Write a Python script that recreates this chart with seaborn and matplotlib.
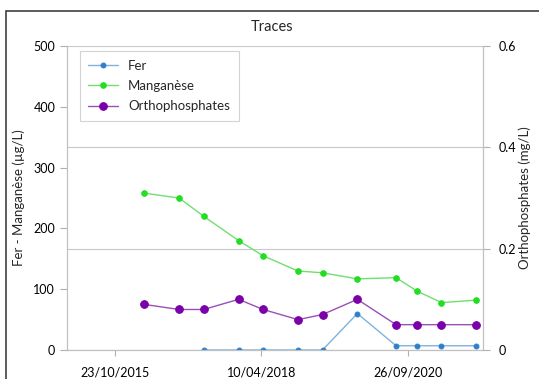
import numpy as np
import pandas as pd
import matplotlib
matplotlib.use('Agg')
import matplotlib.pyplot as plt
import matplotlib.dates as mdates
from matplotlib.patches import Rectangle
import seaborn as sns

# sampling dates and measured values
dates = pd.to_datetime(['2016-04-20', '2016-11-20', '2017-04-20', '2017-11-20',
                        '2018-04-20', '2018-11-20', '2019-04-20', '2019-11-20',
                        '2020-07-15', '2020-11-20', '2021-04-20', '2021-11-20'])
fer = [np.nan, np.nan, 0, 0, 0, 0, 0, 60, 7, 7, 7, 7]            # µg/L
manganese = [258, 250, 220, 180, 155, 130, 127, 117, 119, 97, 78, 82]  # µg/L
ortho = [0.09, 0.08, 0.08, 0.10, 0.08, 0.06, 0.07, 0.10, 0.05, 0.05, 0.05, 0.05]  # mg/L
tick_dates = pd.to_datetime(['2015-10-23', '2018-04-10', '2020-09-26'])

sns.set_style('white')
plt.rcParams['font.family'] = ['Lato', 'DejaVu Sans']

fig = plt.figure(figsize=(5.39, 3.79), dpi=100)
ax = fig.add_axes([0.1243, 0.0765, 0.7718, 0.802])
ax2 = ax.twinx()

sns.lineplot(x=dates, y=fer, ax=ax, color='#7fb3dc', lw=1, marker='o',
             markersize=3.5, markerfacecolor='#2f80c8', markeredgecolor='#2f80c8',
             label='Fer', legend=False)
sns.lineplot(x=dates, y=manganese, ax=ax, color='#6ee06e', lw=1, marker='o',
             markersize=4, markerfacecolor='#22dd22', markeredgecolor='#22dd22',
             label='Manganèse', legend=False)
sns.lineplot(x=dates, y=ortho, ax=ax2, color='#9a4fb8', lw=1, marker='o',
             markersize=5.5, markerfacecolor='#7a00a8', markeredgecolor='#7a00a8',
             label='Orthophosphates', legend=False)

# left axis
ax.set_ylim(0, 500)
ax.set_yticks(range(0, 501, 100))
ax.set_xlim(pd.Timestamp('2015-01-01'), pd.Timestamp('2021-12-31'))
ax.set_xticks(tick_dates)
ax.xaxis.set_major_formatter(mdates.DateFormatter('%d/%m/%Y'))
ax.set_ylabel('Fer - Manganèse (µg/L)', fontsize=9.5, labelpad=6)
ax.set_xlabel('')

# right axis
ax2.set_ylim(0, 0.6)
ax2.set_yticks([0, 0.2, 0.4, 0.6])
ax2.set_yticklabels(['0', '0.2', '0.4', '0.6'])
ax2.set_ylabel('Orthophosphates (mg/L)', fontsize=9.5, labelpad=2)
ax2.grid(True, axis='y', color='#c8c8c8', lw=0.8)
ax2.set_zorder(ax.get_zorder() - 1)
ax.patch.set_visible(False)
ax2.patch.set_visible(True)
ax2.patch.set_facecolor('white')

for a in (ax, ax2):
    for s in a.spines.values():
        s.set_color('#c0c0c0')
        s.set_linewidth(0.8)
    a.spines['top'].set_visible(False)
    a.tick_params(axis='both', colors='#b0b0b0', labelcolor='black',
                  labelsize=9, length=5, width=0.8, direction='out')
ax.tick_params(axis='y', left=True, right=False)
ax.tick_params(axis='x', bottom=True, length=4, pad=8)
ax2.tick_params(axis='y', right=True, left=False, pad=6)

h1, l1 = ax.get_legend_handles_labels()
h2, l2 = ax2.get_legend_handles_labels()
leg = fig.legend(h1 + h2, l1 + l2, loc='upper left',
                 bbox_to_anchor=(0.136, 0.882), fontsize=9.5,
                 frameon=True, fancybox=False, edgecolor='#c8c8c8',
                 handlelength=2.2, borderpad=0.65, labelspacing=0.62)
leg.get_frame().set_linewidth(0.8)

fig.text(272 / 539, 1 - 27 / 379, 'Traces', ha='center', va='center', fontsize=10.5)

# outer frame of the chart
fig.patches.append(Rectangle((6 / 539, -0.05), 1.1, 1.022, transform=fig.transFigure,
                             fill=False, edgecolor='#404040', lw=1.2))

fig.savefig('out.png', dpi=100)
